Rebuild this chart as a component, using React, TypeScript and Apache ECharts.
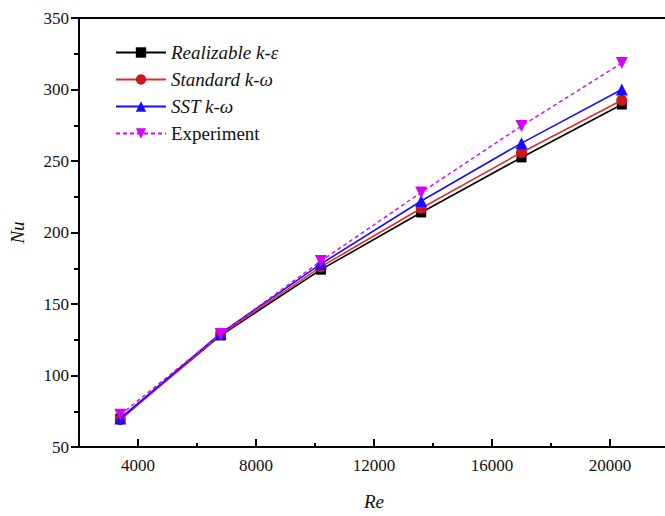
import React, { useEffect, useRef } from "react";
import * as echarts from "echarts";

// Reynolds numbers of the cases
const reValues = [3400, 6800, 10200, 13600, 17000, 20400];

// Nusselt number per turbulence model and experiment
const realizableKe = [69.8, 128, 174, 214, 252.5, 289.5];
const standardKw = [69, 128.5, 176, 217, 256, 292.5];
const sstKw = [70, 129.5, 178, 222, 262.5, 300];
const experiment = [72.5, 129, 180, 228, 274.5, 318.5];

// Axis tick positions
const xMajorTicks = [4000, 8000, 12000, 16000, 20000];
const xMinorTicks = [6000, 10000, 14000, 18000];

const seriesNames = ["Realizable k-\u03b5", "Standard k-\u03c9", "SST k-\u03c9", "Experiment"];

const FONT = "serif";

const pairs = (ys: number[]) => reValues.map((x, i) => [x, ys[i]]);

export default function App() {
  const ref = useRef<HTMLDivElement>(null);

  useEffect(() => {
    if (!ref.current) return;
    const chart = echarts.init(ref.current, undefined, { renderer: "svg" });

    const axisText = { color: "#111", fontFamily: FONT, fontSize: 17, formatter: (v: number) => String(v) };
    const legendText = (italic: boolean) => ({
      fontFamily: FONT,
      fontSize: 19,
      color: "#111",
      fontStyle: italic ? "italic" : "normal",
    });

    chart.setOption({
      animation: false,
      backgroundColor: "#ffffff",
      textStyle: { fontFamily: FONT },
      grid: { left: 75, top: 18, bottom: 62, right: 6, containLabel: false },
      legend: {
        left: 110,
        top: 38,
        orient: "vertical",
        itemWidth: 50,
        itemHeight: 13,
        itemGap: 8,
        textStyle: legendText(false),
        data: [
          { name: seriesNames[0], textStyle: legendText(true) },
          { name: seriesNames[1], textStyle: legendText(true) },
          { name: seriesNames[2], textStyle: legendText(true) },
          { name: seriesNames[3], textStyle: legendText(false) },
        ],
      },
      xAxis: [
        {
          type: "value",
          min: 2000,
          max: 22000,
          name: "Re",
          nameLocation: "middle",
          nameGap: 45,
          nameTextStyle: { fontFamily: FONT, fontSize: 19, fontStyle: "italic", color: "#111" },
          axisLine: { lineStyle: { color: "#000", width: 2 } },
          axisTick: { inside: true, length: 8, lineStyle: { color: "#000", width: 2 }, customValues: xMajorTicks },
          axisLabel: { ...axisText, margin: 10, customValues: xMajorTicks },
          splitLine: { show: false },
        },
        {
          type: "value",
          min: 2000,
          max: 22000,
          position: "bottom",
          axisLine: { show: false },
          axisTick: { inside: true, length: 4, lineStyle: { color: "#000", width: 2 }, customValues: xMinorTicks },
          axisLabel: { show: false },
          splitLine: { show: false },
        },
        {
          type: "value",
          min: 2000,
          max: 22000,
          position: "top",
          axisLine: { show: true, lineStyle: { color: "#000", width: 2 } },
          axisTick: { show: false },
          axisLabel: { show: false },
          splitLine: { show: false },
        },
      ],
      yAxis: {
        type: "value",
        min: 50,
        max: 350,
        interval: 50,
        name: "Nu",
        nameLocation: "middle",
        nameGap: 52,
        nameTextStyle: { fontFamily: FONT, fontSize: 19, fontStyle: "italic", color: "#111" },
        axisLine: { show: true, lineStyle: { color: "#000", width: 2 } },
        axisTick: { length: 8, lineStyle: { color: "#000", width: 2 } },
        minorTick: { show: true, splitNumber: 2, length: 5, lineStyle: { color: "#000", width: 2 } },
        axisLabel: { ...axisText, margin: 10 },
        splitLine: { show: false },
      },
      series: [
        {
          name: seriesNames[0],
          type: "line",
          data: pairs(realizableKe),
          symbol: "rect",
          symbolSize: 10,
          itemStyle: { color: "#000000" },
          lineStyle: { color: "#000000", width: 1.6 },
          z: 2,
        },
        {
          name: seriesNames[1],
          type: "line",
          data: pairs(standardKw),
          symbol: "circle",
          symbolSize: 11,
          itemStyle: { color: "#cc1a1a" },
          lineStyle: { color: "#e02c2c", width: 1.6 },
          z: 3,
        },
        {
          name: seriesNames[2],
          type: "line",
          data: pairs(sstKw),
          symbol: "triangle",
          symbolSize: 12,
          itemStyle: { color: "#1a0dff" },
          lineStyle: { color: "#1a0dff", width: 1.6 },
          z: 4,
        },
        {
          name: seriesNames[3],
          type: "line",
          data: pairs(experiment),
          symbol: "triangle",
          symbolRotate: 180,
          symbolSize: 12,
          itemStyle: { color: "#d600ff" },
          lineStyle: { color: "#d600ff", width: 1.4, type: [4, 3] },
          z: 5,
        },
      ],
    });

    return () => chart.dispose();
  }, []);

  return (
    <div style={{ position: "fixed", left: 0, top: 0, width: 665, height: 516, overflow: "hidden", background: "#fff" }}>
      <div ref={ref} style={{ width: 675, height: 516 }} />
    </div>
  );
}
